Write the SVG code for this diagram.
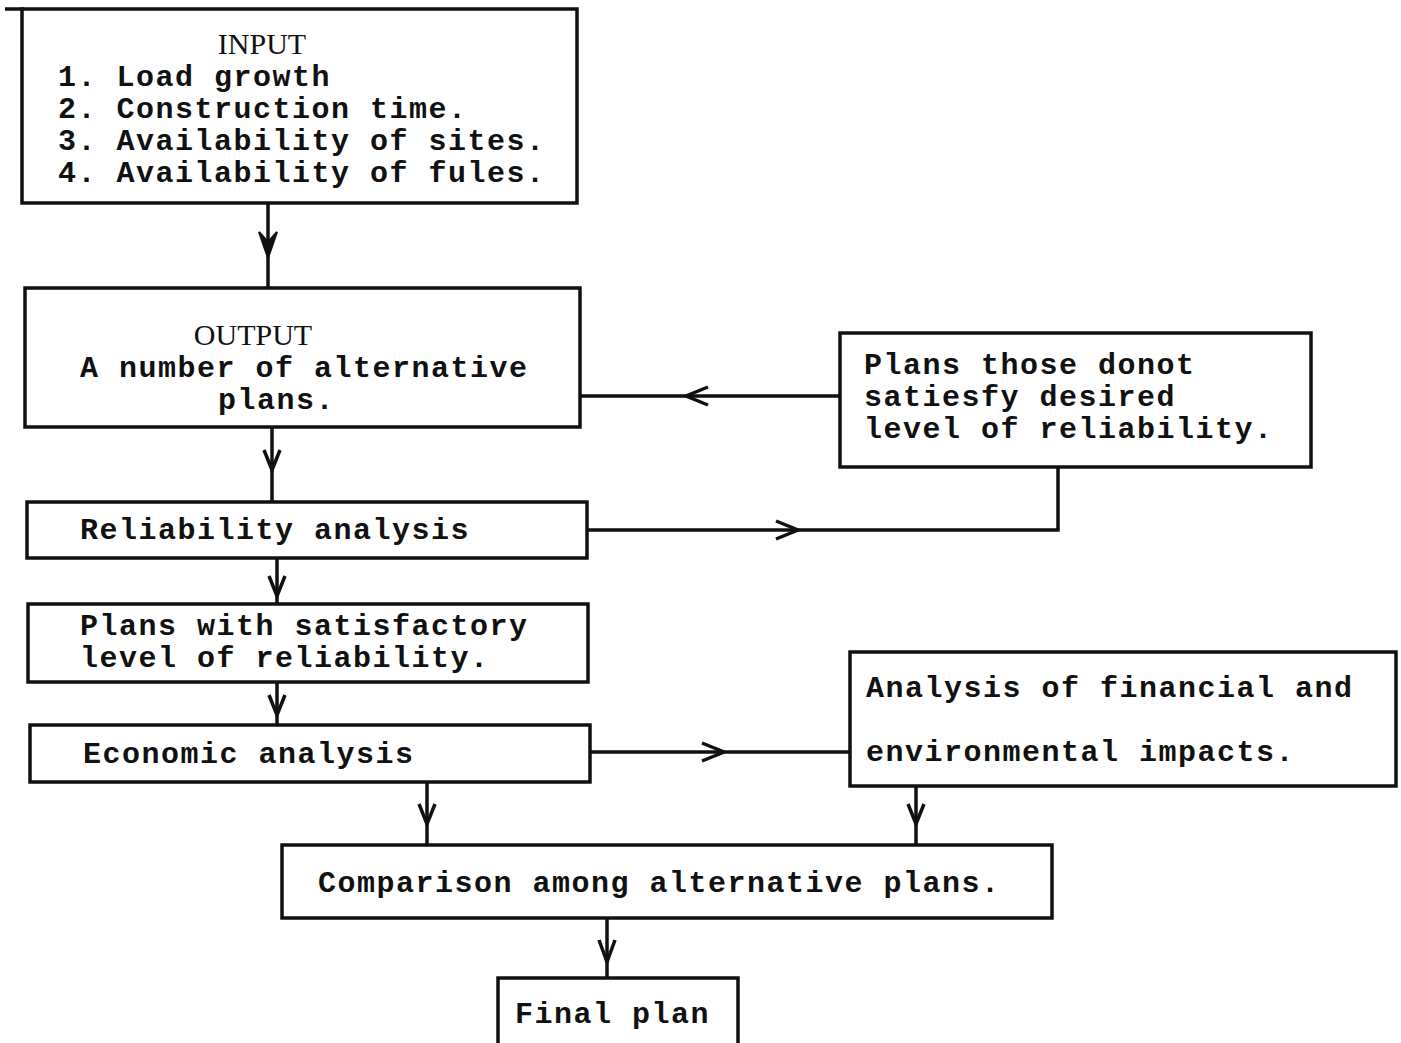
<svg xmlns="http://www.w3.org/2000/svg" width="1401" height="1043" viewBox="0 0 1401 1043">
<style>
.box{fill:#fff;stroke:#111;stroke-width:3.5}
.t{font-family:"Liberation Mono","Courier New",monospace;font-weight:bold;font-size:30px;letter-spacing:1.5px;fill:#111}
.s{font-family:"Liberation Serif","Times New Roman",serif;font-size:30px;fill:#111}
.ln{fill:none;stroke:#111;stroke-width:3.5}
.ah{fill:none;stroke:#111;stroke-width:3.5;stroke-linejoin:miter}
</style>
<rect width="1401" height="1043" fill="#fff"/>
<g id="connectors">
<path class="ln" d="M268 203 V288"/>
<path d="M259 232 L268 258 L277 232 L268 242 Z" fill="#111" stroke="#111" stroke-width="2"/>
<path class="ln" d="M272 427 V502"/>
<path class="ah" d="M264 450 L272 470 L280 450"/>
<path class="ln" d="M840 396 H580"/>
<path class="ah" d="M708 387 L686 396 L708 405"/>
<path class="ln" d="M587 530 H1058 V467"/>
<path class="ah" d="M776 521 L798 530 L776 539"/>
<path class="ln" d="M277 558 V604"/>
<path class="ah" d="M269 576 L277 596 L285 576"/>
<path class="ln" d="M277 682 V725"/>
<path class="ah" d="M269 695 L277 715 L285 695"/>
<path class="ln" d="M590 752 H850"/>
<path class="ah" d="M702 743 L724 752 L702 761"/>
<path class="ln" d="M427 782 V845"/>
<path class="ah" d="M419 804 L427 824 L435 804"/>
<path class="ln" d="M916 786 V845"/>
<path class="ah" d="M908 804 L916 824 L924 804"/>
<path class="ln" d="M607 918 V978"/>
<path class="ah" d="M599 940 L607 962 L615 940"/>
</g>
<g id="input">
<rect class="box" x="22" y="9" width="555" height="194"/>
<path class="ln" d="M5 9 H24"/>
<text class="s" x="262" y="54" text-anchor="middle">INPUT</text>
<text class="t" x="58" y="86">1. Load growth</text>
<text class="t" x="58" y="118">2. Construction time.</text>
<text class="t" x="58" y="150">3. Availability of sites.</text>
<text class="t" x="58" y="182">4. Availability of fules.</text>
</g>
<g id="output">
<rect class="box" x="25" y="288" width="555" height="139"/>
<text class="s" x="253" y="345" text-anchor="middle">OUTPUT</text>
<text class="t" x="80" y="377">A number of alternative</text>
<text class="t" x="218" y="409">plans.</text>
</g>
<g id="rejected">
<rect class="box" x="840" y="333" width="471" height="134"/>
<text class="t" x="864" y="374">Plans those donot</text>
<text class="t" x="864" y="406">satiesfy desired</text>
<text class="t" x="864" y="438">level of reliability.</text>
</g>
<g id="reliability">
<rect class="box" x="27" y="502" width="560" height="56"/>
<text class="t" x="80" y="539">Reliability analysis</text>
</g>
<g id="satisfactory">
<rect class="box" x="28" y="604" width="560" height="78"/>
<text class="t" x="80" y="635">Plans with satisfactory</text>
<text class="t" x="80" y="667">level of reliability.</text>
</g>
<g id="economic">
<rect class="box" x="30" y="725" width="560" height="57"/>
<text class="t" x="83" y="763">Economic analysis</text>
</g>
<g id="financial">
<rect class="box" x="850" y="652" width="546" height="134"/>
<text class="t" x="866" y="697">Analysis of financial and</text>
<text class="t" x="866" y="761">environmental impacts.</text>
</g>
<g id="comparison">
<rect class="box" x="282" y="845" width="770" height="73"/>
<text class="t" x="318" y="892">Comparison among alternative plans.</text>
</g>
<g id="final">
<rect class="box" x="498" y="978" width="240" height="80"/>
<text class="t" x="515" y="1023">Final plan</text>
</g>
</svg>
